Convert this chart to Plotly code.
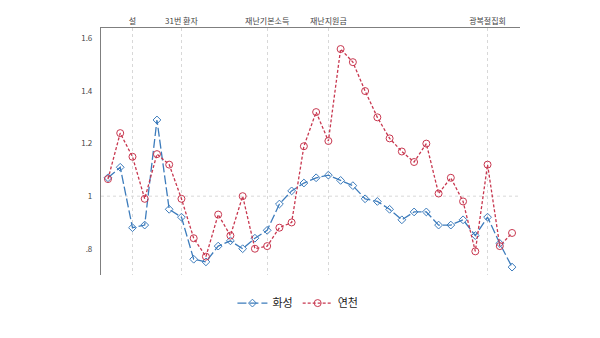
import plotly.graph_objects as go

weeks = list(range(34))
hwaseong = [1.07, 1.11, 0.88, 0.89, 1.29, 0.95, 0.92, 0.76, 0.75, 0.81, 0.83, 0.80, 0.84, 0.87,
            0.97, 1.02, 1.05, 1.07, 1.08, 1.06, 1.04, 0.99, 0.98, 0.95, 0.91, 0.94, 0.94, 0.89,
            0.89, 0.91, 0.85, 0.92, 0.82, 0.73]
yeoncheon = [1.065, 1.24, 1.15, 0.99, 1.16, 1.12, 0.99, 0.84, 0.77, 0.93, 0.85, 1.00, 0.80, 0.81,
             0.88, 0.90, 1.19, 1.32, 1.21, 1.56, 1.51, 1.40, 1.30, 1.22, 1.17, 1.13, 1.20, 1.01,
             1.07, 0.98, 0.79, 1.12, 0.81, 0.86]
event_pos = [2, 6, 13, 18, 31]
event_labels = ["설", "31번 환자", "재난기본소득", "재난지원금", "광복절집회"]
ytick_vals = [0.8, 1.0, 1.2, 1.4, 1.6]
ytick_text = [".8", "1", "1.2", "1.4", "1.6"]

BLUE = "#3d7cbc"
RED = "#c8374f"
FONT = "Noto Sans CJK KR"

fig = go.Figure()
fig.add_trace(go.Scatter(
    x=weeks, y=hwaseong, name="화성", mode="lines+markers",
    line=dict(color=BLUE, width=1.3, dash="9px,3px"),
    marker=dict(symbol="diamond-open", size=6, color=BLUE, line=dict(width=1)),
))
fig.add_trace(go.Scatter(
    x=weeks, y=yeoncheon, name="연천", mode="lines+markers",
    line=dict(color=RED, width=1.3, dash="3px,2px"),
    marker=dict(symbol="circle-open", size=7, color=RED, line=dict(width=1)),
))

fig.add_shape(type="line", xref="paper", yref="y", x0=0, x1=1, y0=1, y1=1,
              line=dict(color="#d8d8d8", width=1, dash="dot"), layer="below")

fig.update_layout(
    width=600, height=338,
    margin=dict(l=101, r=80, t=28, b=63),
    paper_bgcolor="white", plot_bgcolor="white",
    font=dict(family=FONT, size=9, color="#333333"),
    showlegend=True,
    legend=dict(orientation="h", x=0.47, xanchor="center", y=-0.055, yanchor="top",
                font=dict(family=FONT, size=11, color="#222222"),
                itemwidth=30, tracegroupgap=0),
    xaxis=dict(side="top", range=[-0.57, 33.65], tickvals=event_pos, ticktext=event_labels,
               showgrid=True, gridcolor="#d8d8d8", griddash="dot", gridwidth=1,
               showline=True, linecolor="#7f7f7f", linewidth=1.2, ticks="", zeroline=False,
               tickfont=dict(family=FONT, size=8, color="#444444")),
    yaxis=dict(range=[0.7, 1.64], tickvals=ytick_vals, ticktext=ytick_text,
               showgrid=False, showline=True, linecolor="#7f7f7f", linewidth=1.2,
               ticks="", zeroline=False, ticklabelstandoff=6,
               tickfont=dict(family=FONT, size=8, color="#444444")),
)

fig.write_html("out.html")
